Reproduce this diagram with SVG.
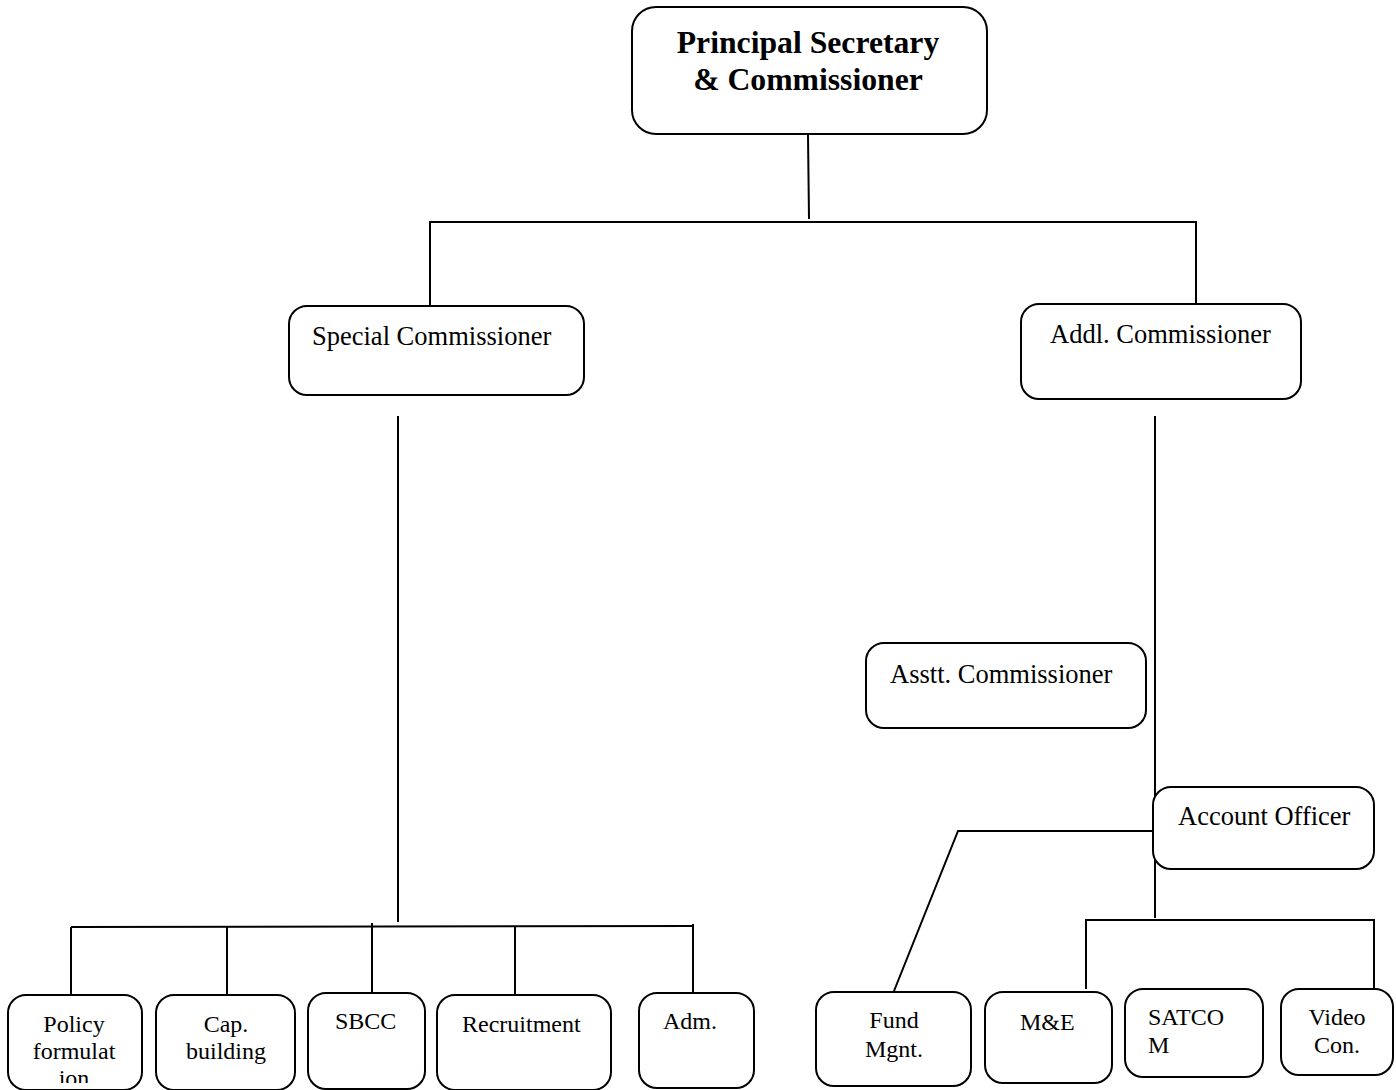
<svg xmlns="http://www.w3.org/2000/svg" width="1396" height="1090" viewBox="0 0 1396 1090">
<style>
.box{fill:#fff;stroke:#000;stroke-width:2}
.ln{fill:none;stroke:#000;stroke-width:2}
.t{font-family:"Liberation Serif","Times New Roman",serif;fill:#000}
.m{font-size:26.5px}
.s{font-size:24px}
.b{font-size:31.7px;font-weight:bold}
</style>
<defs>
<clipPath id="clipPolicy"><rect x="8" y="996" width="133" height="87"/></clipPath>
</defs>
<rect width="1396" height="1090" fill="#fff"/>
<g id="connectors">
<line class="ln" x1="808" y1="135" x2="809" y2="219"/>
<polyline class="ln" points="430,306 430,222 1196,222 1196,304"/>
<line class="ln" x1="398" y1="416" x2="398" y2="922"/>
<line class="ln" x1="71" y1="927" x2="693" y2="926"/>
<line class="ln" x1="71" y1="927" x2="71" y2="995"/>
<line class="ln" x1="227" y1="927" x2="227" y2="995"/>
<line class="ln" x1="372" y1="923" x2="372" y2="993"/>
<line class="ln" x1="515" y1="927" x2="515" y2="995"/>
<line class="ln" x1="693" y1="924" x2="693" y2="993"/>
<line class="ln" x1="1155" y1="416" x2="1155" y2="918"/>
<polyline class="ln" points="1086,989 1086,920 1374,920 1374,989"/>
<polyline class="ln" points="1153,831 958,831 894,991"/>
</g>
<g id="n-principal">
<rect class="box" x="632" y="7" width="355" height="127" rx="24"/>
<text class="t b" x="808" y="53" text-anchor="middle">Principal Secretary</text>
<text class="t b" x="808" y="90" text-anchor="middle">&amp; Commissioner</text>
</g>
<g id="n-special">
<rect class="box" x="289" y="306" width="295" height="89" rx="18"/>
<text class="t m" x="312" y="345">Special Commissioner</text>
</g>
<g id="n-addl">
<rect class="box" x="1021" y="304" width="280" height="95" rx="18"/>
<text class="t m" x="1050" y="343">Addl. Commissioner</text>
</g>
<g id="n-asstt">
<rect class="box" x="866" y="643" width="280" height="85" rx="18"/>
<text class="t m" x="890" y="683">Asstt. Commissioner</text>
</g>
<g id="n-account">
<rect class="box" x="1153" y="787" width="221" height="82" rx="18"/>
<text class="t m" x="1178" y="825">Account Officer</text>
</g>
<g id="n-policy">
<rect class="box" x="8" y="995" width="134" height="95" rx="18"/>
<g clip-path="url(#clipPolicy)">
<text class="t s" x="74" y="1032" text-anchor="middle">Policy</text>
<text class="t s" x="74" y="1059" text-anchor="middle">formulat</text>
<text class="t s" x="74" y="1086" text-anchor="middle">ion</text>
</g>
</g>
<g id="n-cap">
<rect class="box" x="156" y="995" width="139" height="95" rx="18"/>
<text class="t s" x="226" y="1032" text-anchor="middle">Cap.</text>
<text class="t s" x="226" y="1059" text-anchor="middle">building</text>
</g>
<g id="n-sbcc">
<rect class="box" x="308" y="993" width="117" height="96" rx="18"/>
<text class="t s" x="335" y="1029">SBCC</text>
</g>
<g id="n-recruit">
<rect class="box" x="437" y="995" width="174" height="95" rx="18"/>
<text class="t s" x="462" y="1032">Recruitment</text>
</g>
<g id="n-adm">
<rect class="box" x="639" y="993" width="115" height="95" rx="18"/>
<text class="t s" x="663" y="1029">Adm.</text>
</g>
<g id="n-fund">
<rect class="box" x="816" y="992" width="155" height="94" rx="18"/>
<text class="t s" x="894" y="1028" text-anchor="middle">Fund</text>
<text class="t s" x="894" y="1057" text-anchor="middle">Mgnt.</text>
</g>
<g id="n-me">
<rect class="box" x="985" y="992" width="127" height="91" rx="18"/>
<text class="t s" x="1020" y="1030">M&amp;E</text>
</g>
<g id="n-satcom">
<rect class="box" x="1125" y="989" width="138" height="88" rx="18"/>
<text class="t s" x="1148" y="1025">SATCO</text>
<text class="t s" x="1148" y="1053">M</text>
</g>
<g id="n-video">
<rect class="box" x="1281" y="989" width="112" height="86" rx="18"/>
<text class="t s" x="1337" y="1025" text-anchor="middle">Video</text>
<text class="t s" x="1337" y="1053" text-anchor="middle">Con.</text>
</g>
</svg>
